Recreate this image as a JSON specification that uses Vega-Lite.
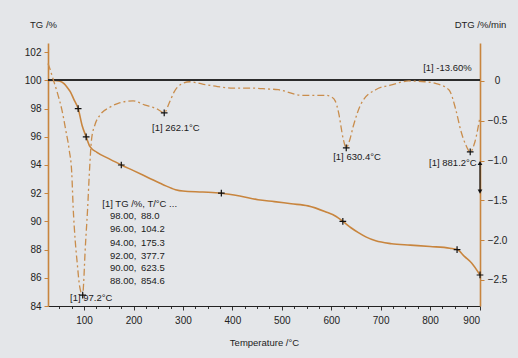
{
  "$schema": "https://vega.github.io/schema/vega-lite/v6.json",
  "width": 432,
  "height": 263,
  "autosize": "none",
  "padding": {"left": 48, "top": 43, "right": 38, "bottom": 52},
  "background": "#e4e6e9",
  "config": {"view": {"stroke": null}, "font": "Liberation Sans"},
  "datasets": {
    "tg": [
      {"t": 27, "tg": 100.0}, {"t": 40, "tg": 100.0}, {"t": 50, "tg": 99.95}, {"t": 60, "tg": 99.75},
      {"t": 66, "tg": 99.5}, {"t": 72, "tg": 99.2}, {"t": 80, "tg": 98.6}, {"t": 88, "tg": 98.0},
      {"t": 96, "tg": 96.8}, {"t": 104.2, "tg": 96.0}, {"t": 112, "tg": 95.3}, {"t": 126, "tg": 94.9},
      {"t": 150, "tg": 94.45}, {"t": 175.3, "tg": 94.0}, {"t": 200, "tg": 93.6}, {"t": 230, "tg": 93.1},
      {"t": 260, "tg": 92.6}, {"t": 285, "tg": 92.25}, {"t": 300, "tg": 92.15}, {"t": 340, "tg": 92.08},
      {"t": 377.7, "tg": 92.0}, {"t": 415, "tg": 91.8}, {"t": 452, "tg": 91.54}, {"t": 485, "tg": 91.4},
      {"t": 519, "tg": 91.25}, {"t": 553, "tg": 91.1}, {"t": 587, "tg": 90.7}, {"t": 610, "tg": 90.35},
      {"t": 623.5, "tg": 90.0}, {"t": 640, "tg": 89.55}, {"t": 655, "tg": 89.2}, {"t": 670, "tg": 88.9},
      {"t": 690, "tg": 88.62}, {"t": 722, "tg": 88.42}, {"t": 760, "tg": 88.32}, {"t": 800, "tg": 88.22},
      {"t": 840, "tg": 88.1}, {"t": 854.6, "tg": 88.0}, {"t": 870, "tg": 87.5}, {"t": 884, "tg": 87.05},
      {"t": 901, "tg": 86.2}
    ],
    "tgmarks": [
      {"t": 88.0, "tg": 98.0}, {"t": 104.2, "tg": 96.0}, {"t": 175.3, "tg": 94.0},
      {"t": 377.7, "tg": 92.0}, {"t": 623.5, "tg": 90.0}, {"t": 854.6, "tg": 88.0}, {"t": 901, "tg": 86.2}
    ],
    "dtg": [
      {"t": 27, "d": 0.22}, {"t": 31, "d": 0.15}, {"t": 36, "d": 0.05}, {"t": 46, "d": -0.15},
      {"t": 55, "d": -0.36}, {"t": 63, "d": -0.62}, {"t": 70, "d": -0.87}, {"t": 75, "d": -1.15},
      {"t": 78, "d": -1.6}, {"t": 82, "d": -2.0}, {"t": 86, "d": -2.28}, {"t": 91, "d": -2.58},
      {"t": 97.2, "d": -2.69}, {"t": 99, "d": -2.55}, {"t": 102, "d": -2.15}, {"t": 107, "d": -1.62},
      {"t": 111, "d": -1.12}, {"t": 115, "d": -0.74}, {"t": 122, "d": -0.55}, {"t": 132, "d": -0.43},
      {"t": 152, "d": -0.33}, {"t": 169, "d": -0.28}, {"t": 199, "d": -0.25}, {"t": 222, "d": -0.3},
      {"t": 247, "d": -0.35}, {"t": 262.1, "d": -0.4}, {"t": 272, "d": -0.28}, {"t": 282, "d": -0.14},
      {"t": 294, "d": -0.05}, {"t": 314, "d": -0.01}, {"t": 340, "d": -0.04}, {"t": 370, "d": -0.07},
      {"t": 402, "d": -0.09}, {"t": 442, "d": -0.09}, {"t": 470, "d": -0.1}, {"t": 493, "d": -0.11},
      {"t": 540, "d": -0.18}, {"t": 588, "d": -0.18}, {"t": 600, "d": -0.2}, {"t": 608, "d": -0.25},
      {"t": 615, "d": -0.4}, {"t": 624, "d": -0.72}, {"t": 630.4, "d": -0.84}, {"t": 637, "d": -0.75},
      {"t": 645, "d": -0.56}, {"t": 661, "d": -0.28}, {"t": 690, "d": -0.11}, {"t": 722, "d": -0.05},
      {"t": 757, "d": 0.0}, {"t": 790, "d": -0.01}, {"t": 811, "d": -0.03}, {"t": 838, "d": -0.11},
      {"t": 852, "d": -0.36}, {"t": 862, "d": -0.62}, {"t": 872, "d": -0.8}, {"t": 881.2, "d": -0.89},
      {"t": 890, "d": -0.78}, {"t": 896, "d": -0.62}, {"t": 901, "d": -0.45}
    ],
    "dtgmarks": [
      {"t": 97.2, "d": -2.69}, {"t": 262.1, "d": -0.4}, {"t": 630.4, "d": -0.84}, {"t": 881.2, "d": -0.89}
    ],
    "labels": [
      {"t": 237.5, "tg": 96.62, "label": "[1] 262.1°C"},
      {"t": 604, "tg": 94.57, "label": "[1] 630.4°C"},
      {"t": 798, "tg": 94.15, "label": "[1] 881.2°C"},
      {"t": 786, "tg": 100.88, "label": "[1] -13.60%"},
      {"t": 71.6, "tg": 84.57, "label": "[1] 97.2°C"},
      {"t": 136.9, "tg": 91.23, "label": "[1] TG /%, T/°C ..."},
      {"t": 152.5, "tg": 90.35, "label": "98.00,"},
      {"t": 215, "tg": 90.35, "label": "88.0"},
      {"t": 152.5, "tg": 89.43, "label": "96.00,"},
      {"t": 215, "tg": 89.43, "label": "104.2"},
      {"t": 152.5, "tg": 88.5, "label": "94.00,"},
      {"t": 215, "tg": 88.5, "label": "175.3"},
      {"t": 152.5, "tg": 87.58, "label": "92.00,"},
      {"t": 215, "tg": 87.58, "label": "377.7"},
      {"t": 152.5, "tg": 86.66, "label": "90.00,"},
      {"t": 215, "tg": 86.66, "label": "623.5"},
      {"t": 152.5, "tg": 85.74, "label": "88.00,"},
      {"t": 215, "tg": 85.74, "label": "854.6"}
    ],
    "arrow": [
      {"t": 901, "d": -1.03, "d2": -1.39, "end": "top"},
      {"t": 901, "d": -1.39, "end": "bottom"}
    ]
  },
  "encoding": {
    "x": {
      "field": "t", "type": "quantitative",
      "scale": {"domain": [27, 901], "nice": false, "zero": false},
      "axis": {
        "orient": "bottom",
        "values": [50,75,100,125,150,175,200,225,250,275,300,325,350,375,400,425,450,475,500,525,550,575,600,625,650,675,700,725,750,775,800,825,850,875,900],
        "labelExpr": "datum.value % 100 === 0 ? datum.label : ''",
        "grid": false,
        "domainColor": "#222", "domainWidth": 1.2,
        "tickColor": "#333",
        "tickSize": {"condition": {"test": "datum.value % 100 === 0", "value": 4}, "value": 2.5},
        "labelFontSize": 10, "labelColor": "#222", "labelPadding": 5,
        "title": "Temperature /°C", "titleFontSize": 9.5, "titleFontWeight": "normal", "titleColor": "#222",
        "titleY": 36, "titleBaseline": "middle"
      }
    }
  },
  "layer": [
    {
      "encoding": {
        "y": {
          "field": "tg", "type": "quantitative",
          "scale": {"domain": [84, 102.65], "nice": false, "zero": false},
          "axis": {
            "orient": "left", "values": [84,86,88,90,92,94,96,98,100,102], "grid": false,
            "domainColor": "#c8853e", "domainWidth": 1.6, "tickColor": "#c8853e", "tickSize": 4,
            "labelFontSize": 10, "labelColor": "#222", "labelPadding": 3,
            "title": "TG /%", "titleAngle": 0, "titleX": -5, "titleY": -19, "titleAlign": "center",
            "titleBaseline": "middle", "titleFontSize": 9.5, "titleFontWeight": "normal", "titleColor": "#222"
          }
        }
      },
      "layer": [
        {
          "data": {"name": "tg"},
          "mark": {"type": "line", "color": "#c8853e", "strokeWidth": 1.6, "interpolate": "monotone"}
        },
        {
          "data": {"name": "tgmarks"},
          "mark": {"type": "rule", "color": "#2b2b2b", "strokeWidth": 1.5},
          "encoding": {"x": null, "y": {"datum": 100, "type": "quantitative"}}
        },
        {
          "data": {"name": "tgmarks"},
          "mark": {"type": "point", "shape": "M-1,0L1,0M0,-1L0,1", "filled": false, "stroke": "#111", "strokeWidth": 1.2, "size": 45, "opacity": 1}
        },
        {
          "data": {"name": "labels"},
          "mark": {"type": "text", "align": "left", "baseline": "middle", "fontSize": 9.5, "color": "#1a1a1a"},
          "encoding": {"text": {"field": "label"}}
        }
      ]
    },
    {
      "encoding": {
        "y": {
          "field": "d", "type": "quantitative",
          "scale": {"domain": [-2.827, 0.477], "nice": false, "zero": false},
          "axis": {
            "orient": "right", "values": [0, -0.5, -1, -1.5, -2, -2.5], "format": ".1f",
            "labelExpr": "datum.value === 0 ? '0' : datum.label",
            "grid": false,
            "domainColor": "#c8853e", "domainWidth": 1.6, "tickColor": "#c8853e", "tickSize": 4,
            "labelFontSize": 10, "labelColor": "#222", "labelPadding": 13, "labelAlign": "center",
            "title": "DTG /%/min", "titleAngle": 0, "titleX": 0, "titleY": -19, "titleAlign": "center",
            "titleBaseline": "middle", "titleFontSize": 9.5, "titleFontWeight": "normal", "titleColor": "#222"
          }
        }
      },
      "layer": [
        {
          "data": {"name": "dtg"},
          "mark": {"type": "line", "color": "#c98d4c", "strokeWidth": 1.3, "strokeDash": [7, 3, 2, 3], "interpolate": "monotone"}
        },
        {
          "data": {"name": "dtgmarks"},
          "mark": {"type": "point", "shape": "M-1,0L1,0M0,-1L0,1", "filled": false, "stroke": "#111", "strokeWidth": 1.2, "size": 45, "opacity": 1}
        },
        {
          "data": {"name": "arrow"},
          "transform": [{"filter": "datum.end === 'top'"}],
          "mark": {"type": "rule", "color": "#111", "strokeWidth": 1.2},
          "encoding": {"y2": {"field": "d2"}}
        },
        {
          "data": {"name": "arrow"},
          "transform": [{"filter": "datum.end === 'top'"}],
          "mark": {"type": "point", "shape": "triangle-up", "filled": true, "color": "#111", "size": 22, "opacity": 1}
        },
        {
          "data": {"name": "arrow"},
          "transform": [{"filter": "datum.end === 'bottom'"}],
          "mark": {"type": "point", "shape": "triangle-down", "filled": true, "color": "#111", "size": 22, "opacity": 1}
        }
      ]
    }
  ],
  "resolve": {"scale": {"y": "independent"}, "axis": {"y": "independent"}}
}
